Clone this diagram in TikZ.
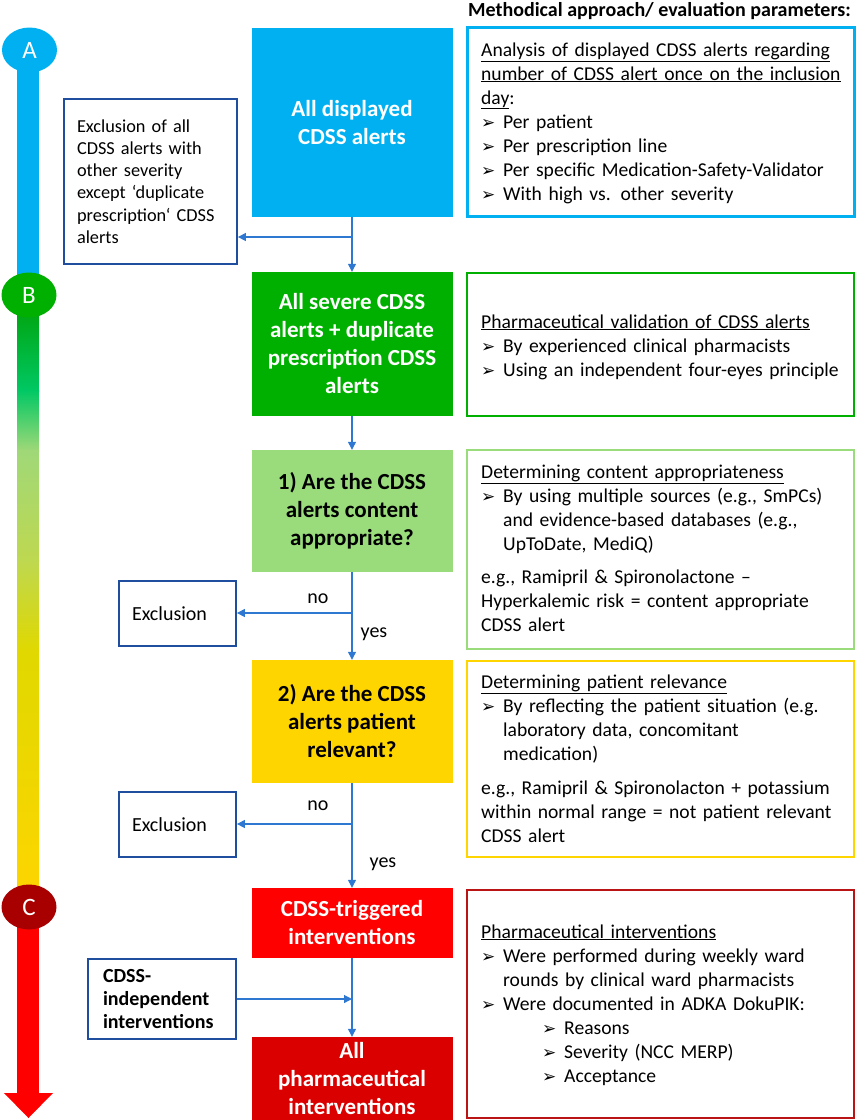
\documentclass[tikz,border=0pt]{standalone}
\usepackage{fontspec}
\setmainfont{Carlito}
\newfontfamily\djv{DejaVu Sans}
\usetikzlibrary{shapes.geometric,arrows.meta}
\definecolor{cblue}{HTML}{00B0F0}
\definecolor{cgreen}{HTML}{00B000}
\definecolor{clgreen}{HTML}{9ADB7B}
\definecolor{cyellow}{HTML}{FFD500}
\definecolor{cred}{HTML}{FF0000}
\definecolor{cdred}{HTML}{DA0000}
\definecolor{cCred}{HTML}{A80000}
\definecolor{cborderred}{HTML}{BA1414}
\definecolor{exblue}{HTML}{1F4E9E}
\definecolor{arblue}{HTML}{2F78D2}
\hyphenpenalty=10000
\exhyphenpenalty=10000
\newcommand{\bul}{\makebox[22pt][l]{\djv\fontsize{17}{17}\selectfont ➢}}
\newcommand{\myind}{\hspace*{22pt}}
\newcommand{\subbul}{\hspace*{61pt}\bul}
\begin{document}
\begin{tikzpicture}[x=1pt,y=-1pt,
  cbox/.style={minimum width=201pt, inner sep=0pt, align=center,
    font=\bfseries\fontsize{23}{28}\selectfont},
  rbox/.style={minimum width=387pt, inner sep=0pt, line width=2.5pt},
  rtext/.style={inner sep=0pt, text width=380pt, align=left, anchor=base west,
    font=\fontsize{19.6}{24}\selectfont},
  exbox/.style={draw=exblue, line width=1.8pt, inner xsep=13pt, inner ysep=0pt, align=left},
  arr/.style={draw=arblue, line width=1.2pt, -{Triangle[length=8pt,width=8pt]}},
  lbl/.style={inner sep=0pt, anchor=base, font=\fontsize{20}{24}\selectfont},
  phase/.style={ellipse, minimum width=55pt, minimum height=45pt, inner sep=0pt,
    text=white, font=\fontsize{25}{25}\selectfont}
]
\useasboundingbox (0,0) rectangle (858,1120);
% ---- left timeline bar
\fill[cblue] (17,50) rectangle (39,295);
\shade[top color=cgreen!90!black, bottom color={rgb,255:red,0;green,200;blue,100}] (17,294) rectangle (39,391);
\shade[top color={rgb,255:red,0;green,200;blue,100}, bottom color={rgb,255:red,160;green,216;blue,120}] (17,390) rectangle (39,451);
\shade[top color={rgb,255:red,160;green,216;blue,120}, bottom color={rgb,255:red,190;green,216;blue,80}] (17,450) rectangle (39,561);
\shade[top color={rgb,255:red,190;green,216;blue,80}, bottom color={rgb,255:red,224;green,216;blue,0}] (17,560) rectangle (39,651);
\shade[top color={rgb,255:red,224;green,216;blue,0}, bottom color=cyellow] (17,650) rectangle (39,907);
\fill[cred] (17,906) rectangle (39,1094);
\fill[cred] (4,1093) -- (53,1093) -- (28.5,1118) -- cycle;
\node[phase, fill=cblue] (pA) at (29.5,50) {A};
\node[phase, fill=cgreen] (pB) at (29,295) {B};
\node[phase, fill=cCred] (pC) at (29,907) {C};
% ---- centre column
\node[cbox, fill=cblue, text=white, minimum height=189pt] (b1) at (352,122.5) {All displayed\\CDSS alerts};
\node[cbox, fill=cgreen, text=white, minimum height=144pt] (b2) at (352,344) {All severe CDSS\\alerts + duplicate\\prescription CDSS\\alerts};
\node[cbox, fill=clgreen, text=black, minimum height=122pt] (b3) at (352,511) {1) Are the CDSS\\alerts content\\appropriate?};
\node[cbox, fill=cyellow, text=black, minimum height=123pt] (b4) at (352,721.5) {2) Are the CDSS\\alerts patient\\relevant?};
\node[cbox, fill=cred, text=white, minimum height=70pt] (b5) at (352,923) {CDSS-triggered\\interventions};
\node[cbox, fill=cdred, text=white, minimum height=83pt] (b6) at (352,1078.5) {All\\pharmaceutical\\interventions};
% ---- exclusion boxes
\node[exbox, text width=147pt, minimum width=173pt, minimum height=165pt,
  font=\fontsize{18.3}{22.3}\selectfont] (e0) at (150.5,181.5)
  {Exclusion of all\\CDSS alerts with\\other severity\\except ‘duplicate\\prescription‘ CDSS\\alerts};
\node[exbox, text width=91pt, minimum width=117pt, minimum height=65pt,
  font=\fontsize{20}{22}\selectfont] (e1) at (177.5,613.5) {Exclusion};
\node[exbox, text width=91pt, minimum width=117pt, minimum height=65pt,
  font=\fontsize{20}{22}\selectfont] (e2) at (177.5,824.5) {Exclusion};
\node[exbox, inner xsep=15pt, text width=118pt, minimum width=148pt, minimum height=80pt,
  font=\bfseries\fontsize{20}{23}\selectfont] (ind) at (162,999) {CDSS-\\independent\\interventions};
% ---- connectors
\coordinate (j1) at (352,237);
\coordinate (j2) at (352,613);
\coordinate (j3) at (352,824);
\coordinate (j4) at (352,999);
\draw[arr] (b1.south) -- (b2.north);
\draw[arr] (j1) -- (j1 -| e0.east);
\draw[arr] (b2.south) -- (b3.north);
\draw[arr] (b3.south) -- (b4.north);
\draw[arr] (j2) -- (j2 -| e1.east);
\draw[arr] (b4.south) -- (b5.north);
\draw[arr] (j3) -- (j3 -| e2.east);
\draw[arr] (b5.south) -- (b6.north);
\draw[arr] (ind.east) -- (j4);
\node[lbl] (no1) at (318,603) {no};
\node[lbl] (yes1) at (374,637) {yes};
\node[lbl] (no2) at (318,810) {no};
\node[lbl] (yes2) at (383,867) {yes};
% ---- right column
\node[inner sep=0pt, anchor=base west, font=\bfseries\fontsize{20}{24}\selectfont] (title) at (468,16) {Methodical approach/ evaluation parameters:};
\node[rbox, draw=cblue, line width=3pt, minimum height=189pt] (r1) at (660.5,121.5) {};
\node[rbox, draw=cgreen, minimum height=143pt] (r2) at (660.5,344.5) {};
\node[rbox, draw=clgreen, minimum height=199pt] (r3) at (660.5,549.5) {};
\node[rbox, draw=cyellow, minimum height=196pt] (r4) at (660.5,759) {};
\node[rbox, draw=cborderred, line width=2pt, minimum height=228pt] (r5) at (660.5,1004) {};
\node[rtext] (t1) at (481,56) {\underline{Analysis of displayed CDSS alerts regarding}\\
\underline{number of CDSS alert once on the inclusion}\\
\underline{day}:\\
\bul Per patient\\
\bul Per prescription line\\
\bul Per specific Medication-Safety-Validator\\
\bul With high vs. other severity};
\node[rtext] (t2) at (481,328) {\underline{Pharmaceutical validation of CDSS alerts}\\
\bul By experienced clinical pharmacists\\
\bul Using an independent four-eyes principle};
\node[rtext] (t3) at (481,478) {\underline{Determining content appropriateness}\\
\bul By using multiple sources (e.g., SmPCs)\\
\myind and evidence-based databases (e.g.,\\
\myind UpToDate, MediQ)\\[9pt]
e.g., Ramipril \& Spironolactone –\\
Hyperkalemic risk = content appropriate\\
CDSS alert};
\node[rtext] (t4) at (481,688) {\underline{Determining patient relevance}\\
\bul By reflecting the patient situation (e.g.\\
\myind laboratory data, concomitant\\
\myind medication)\\[10pt]
e.g., Ramipril \& Spironolacton + potassium\\
within normal range = not patient relevant\\
CDSS alert};
\node[rtext] (t5) at (481,938) {\underline{Pharmaceutical interventions}\\
\bul Were performed during weekly ward\\
\myind rounds by clinical ward pharmacists\\
\bul Were documented in ADKA DokuPIK:\\
\subbul Reasons\\
\subbul Severity (NCC MERP)\\
\subbul Acceptance};
\end{tikzpicture}
\end{document}
